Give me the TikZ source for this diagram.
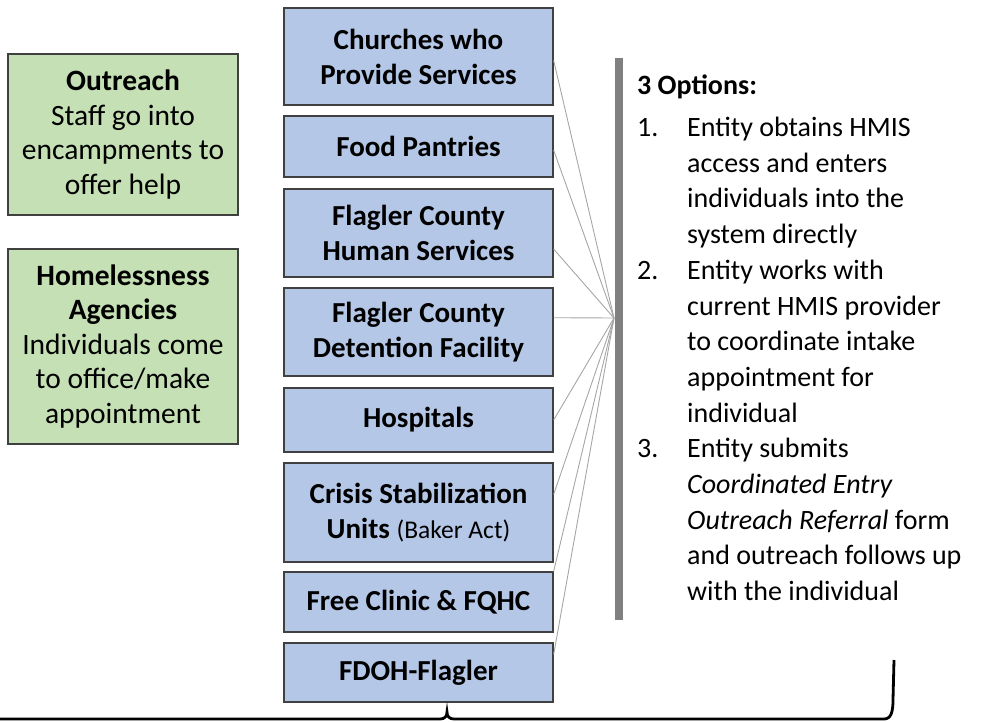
\documentclass[tikz,border=0pt]{standalone}
\usepackage{fontspec}
\setmainfont{Carlito}
\usetikzlibrary{calc}
\definecolor{boxblue}{HTML}{B4C7E7}
\definecolor{boxgreen}{HTML}{C5E0B4}
\definecolor{edgegray}{HTML}{404040}
\definecolor{linkgray}{HTML}{A6A6A6}
\definecolor{bargray}{HTML}{808080}
\newcommand{\optnum}[1]{\makebox[50pt][l]{#1}}
\newcommand{\optgap}{\hspace*{50pt}}
\tikzset{
  agency/.style={draw=edgegray, line width=1.3pt, fill=boxblue, align=center,
    minimum width=269pt, inner sep=0pt, font=\fontsize{29}{35}\selectfont\bfseries},
  entry/.style={draw=edgegray, line width=1.3pt, fill=boxgreen, align=center,
    minimum width=230pt, inner sep=0pt, font=\fontsize{29.5}{34.5}\selectfont},
  link/.style={draw=linkgray, line width=0.9pt}
}
\begin{document}
\begin{tikzpicture}[x=1pt,y=-1pt]
  \useasboundingbox (0,0) rectangle (989,721);
  % left side
  \node[entry, minimum height=161pt] (outreach) at (123,134.5)
    {\textbf{Outreach}\\Staff go into\\encampments to\\offer help};
  \node[entry, minimum height=195pt] (agencies) at (123,346.5)
    {\textbf{Homelessness}\\\textbf{Agencies}\\Individuals come\\to office/make\\appointment};
  % middle column
  \node[agency, minimum height=97pt] (church) at (418.5,56.5) {Churches who\\Provide Services};
  \node[agency, minimum height=61pt] (food) at (418.5,146.5) {Food Pantries};
  \node[agency, minimum height=88pt] (human) at (418.5,233) {Flagler County\\Human Services};
  \node[agency, minimum height=88pt] (jail) at (418.5,332) {Flagler County\\Detention Facility};
  \node[agency, minimum height=64pt] (hosp) at (418.5,420) {Hospitals};
  \node[agency, minimum height=99pt] (crisis) at (418.5,512.5)
    {Crisis Stabilization\\Units {\mdseries\fontsize{25.5}{35}\selectfont (Baker Act)}};
  \node[agency, minimum height=60pt] (clinic) at (418.5,602) {Free Clinic \& FQHC};
  \node[agency, minimum height=59pt] (fdoh) at (418.5,672.5) {FDOH-Flagler};
  % links
  \coordinate (hub) at (614,318);
  \foreach \b/\f in {church/0.54,food/0.56,human/0.68,jail/0.34,hosp/0.5,crisis/0.32,clinic/0,fdoh/0.2}
    \draw[link] (hub) -- ($(\b.north east)!\f!(\b.south east)$);
  \fill[bargray] (615,58) rectangle (623,620);
  % options
  \node[anchor=north west, align=left, inner sep=0pt, font=\fontsize{28}{35.7}\selectfont] (opts) at (637,75)
    {\textbf{3 Options:}\\[6pt]
     \optnum{1.}Entity obtains HMIS\\
     \optgap access and enters\\
     \optgap individuals into the\\
     \optgap system directly\\
     \optnum{2.}Entity works with\\
     \optgap current HMIS provider\\
     \optgap to coordinate intake\\
     \optgap appointment for\\
     \optgap individual\\
     \optnum{3.}Entity submits\\
     \optgap \textit{Coordinated Entry}\\
     \optgap \textit{Outreach Referral} form\\
     \optgap and outreach follows up\\
     \optgap with the individual};
  % brace
  \draw[line width=2.8pt] (-5,719) -- (440,719) .. controls (445,719) and (447,716) .. (447,712)
    .. controls (447,716) and (449,719) .. (454,719) -- (884,719)
    .. controls (891,719) and (893,712) .. (893,700) -- (894,660);
\end{tikzpicture}
\end{document}
